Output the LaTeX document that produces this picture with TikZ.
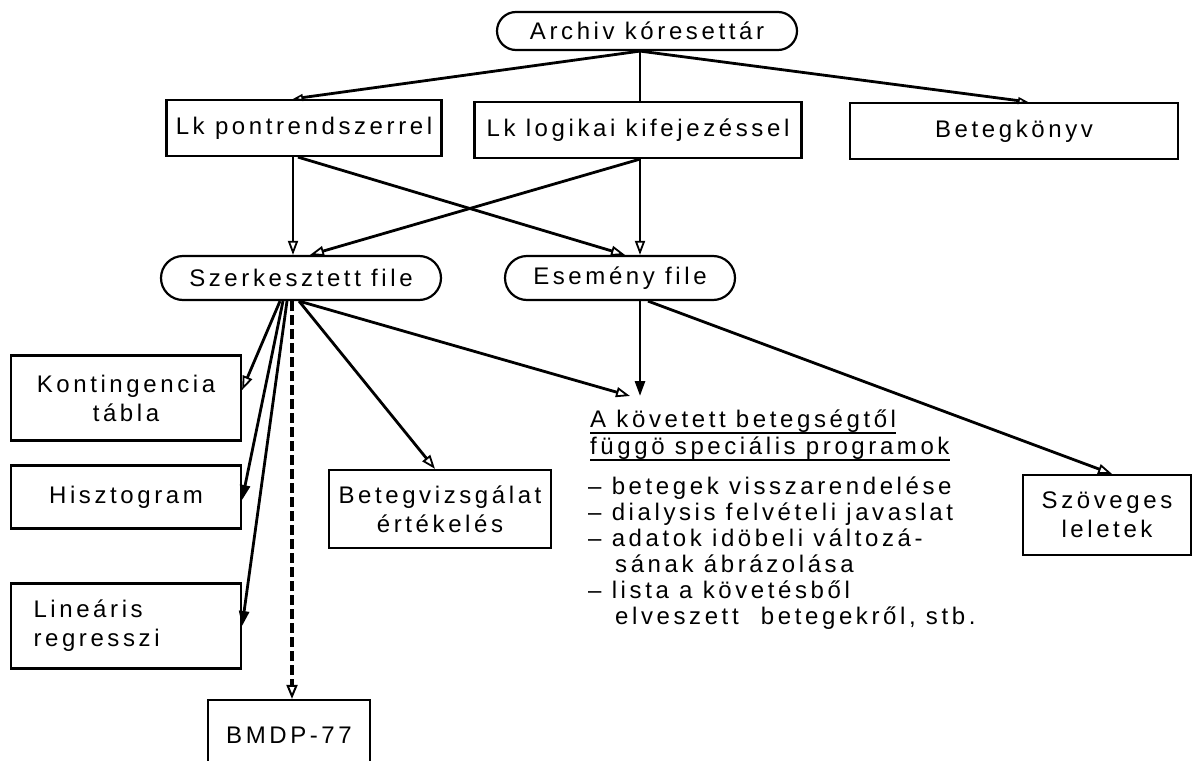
\documentclass[tikz,border=0pt]{standalone}
\usepackage{fontspec}
\setmainfont{Liberation Sans}[LetterSpace=15]
\usetikzlibrary{arrows.meta}
\begin{document}
\begin{tikzpicture}[x=1pt,y=-1pt,
  font=\fontsize{24}{29}\selectfont,
  box/.style={draw, line width=2.2pt, inner sep=0pt, align=center},
  rbox/.style={box, rounded corners=19pt},
  conn/.style={line width=2.8pt},
  ul/.style={line width=2pt},
  stip/.style={-{Triangle[open,length=10pt,width=7pt,line width=1.6pt]}},
  otip/.style={-{Triangle[open,length=14pt,width=10pt,line width=1.8pt]}},
  ftip/.style={-{Triangle[length=15pt,width=10pt]}},
  dtip/.style={-{Triangle[open,length=14pt,width=11pt,line width=2pt]}},
  txt/.style={anchor=base west, inner sep=0pt}
]
\useasboundingbox[fill=white] (0,0) rectangle (1193,760);

% nodes
\node[rbox, minimum width=300pt, minimum height=38pt] (arch) at (647,31) {Archiv kóresettár};
\node[box, minimum width=275pt, minimum height=56pt] (lkp) at (304,128) {Lk pontrendszerrel};
\node[box, minimum width=327pt, minimum height=56pt] (lkl) at (638,130) {Lk logikai kifejezéssel};
\node[box, minimum width=328pt, minimum height=56pt] (bk) at (1014,131) {Betegkönyv};
\node[rbox, rounded corners=22pt, minimum width=280pt, minimum height=44pt] (szf) at (301,278) {Szerkesztett file};
\node[rbox, rounded corners=22pt, minimum width=230pt, minimum height=44pt] (esf) at (620,278) {Esemény file};
\node[box, minimum width=230pt, minimum height=85pt] (kont) at (126,398) {Kontingencia\\tábla};
\node[box, minimum width=230pt, minimum height=63pt] (hiszt) at (126,497) {Hisztogram};
\node[box, align=left, text width=185pt, inner xsep=22.5pt, minimum height=85pt] (lin) at (126,626) {Lineáris\\regresszi};
\node[box, minimum width=222pt, minimum height=78pt] (betv) at (440,509) {Betegvizsgálat\\értékelés};
\node[box, minimum width=168pt, minimum height=80pt] (szov) at (1107,515) {Szöveges\\leletek};
\node[box, minimum width=162pt, minimum height=70pt] (bmdp) at (289,735) {BMDP-77};

% text block
\node[txt] (p1) at (590,427) {A követett betegségtől};
\node[txt] (p2) at (590,454) {függö speciális programok};
\node[txt] (p3) at (588,494) {– betegek visszarendelése};
\node[txt] (p4) at (588,520) {– dialysis felvételi javaslat};
\node[txt] (p5) at (588,546) {– adatok idöbeli változá-};
\node[txt] (p6) at (615,572) {sának ábrázolása};
\node[txt] (p7) at (588,598) {– lista a követésből};
\node[txt] (p8) at (615,624) {elveszett\hspace{12pt} betegekről, stb.};
\draw[ul] ([yshift=-6pt]p1.base west) -- ([yshift=-6pt]p1.base east);
\draw[ul] ([yshift=-6pt]p2.base west) -- ([yshift=-6pt]p2.base east);
\coordinate (ptop1) at (630,396);
\coordinate (ptop2) at (640,396);

% connectors
\draw[conn, stip] ([xshift=-7pt]arch.south) -- ([xshift=-11pt]lkp.north);
\draw[conn] ([xshift=-7pt]arch.south) -- ([xshift=2pt]lkl.north);
\draw[conn, stip] ([xshift=-7pt]arch.south) -- ([xshift=14pt]bk.north);

\draw[conn, otip] ([xshift=-11pt]lkp.south) -- ([xshift=-8pt]szf.north);
\draw[conn, otip] ([xshift=-6pt]lkp.south) -- ([xshift=5pt]esf.north);
\draw[conn, otip] ([xshift=2pt]lkl.south) -- ([xshift=9pt]szf.north);
\draw[conn, otip] ([xshift=2pt]lkl.south) -- ([xshift=20pt]esf.north);

\draw[conn, otip] ([xshift=-21pt]szf.south) -- ([yshift=8pt]kont.east);
\draw[conn, ftip] ([xshift=-18pt]szf.south) -- ([yshift=-3pt]hiszt.east);
\draw[conn, ftip] ([xshift=-14pt]szf.south) -- (lin.east);
\draw[line width=4pt, dash pattern=on 10pt off 4pt, dtip] ([xshift=-9pt]szf.south) -- ([xshift=3pt]bmdp.north);
\draw[conn, otip] ([xshift=-2pt]szf.south) -- ([xshift=-5pt]betv.north);
\draw[conn, otip] ([xshift=-2pt]szf.south) -- (ptop1);

\draw[conn, ftip] ([xshift=20pt]esf.south) -- (ptop2);
\draw[conn, otip] ([xshift=28pt]esf.south) -- ([xshift=5pt]szov.north);
\end{tikzpicture}
\end{document}
